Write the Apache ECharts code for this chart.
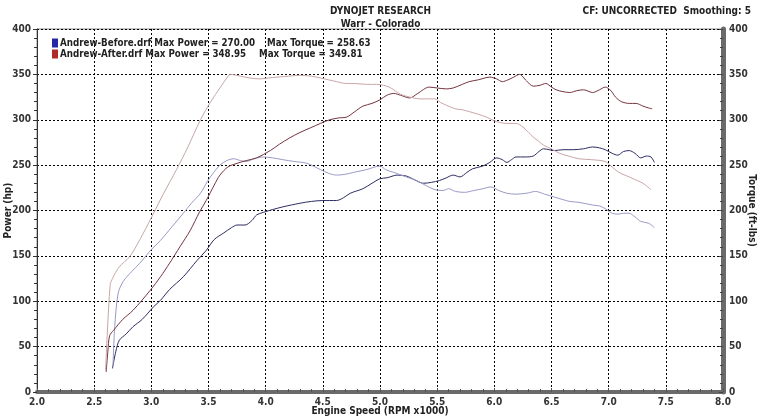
<!DOCTYPE html>
<html>
<head>
<meta charset="utf-8">
<script src="https://cdn.jsdelivr.net/npm/echarts@6/dist/echarts.min.js"></script>
<style>
html,body{margin:0;padding:0;background:#fff;}
#c{width:761px;height:416px;}
</style>
</head>
<body>
<div id="c"></div>
<script>
// ---- Data (RPM x1000, value) ----
var xTicks = [2.0,2.5,3.0,3.5,4.0,4.5,5.0,5.5,6.0,6.5,7.0,7.5,8.0];
var yTicks = [0,50,100,150,200,250,300,350,400];

var runNames = ['Andrew-Before.drf','Andrew-After.drf'];
var maxPower = ['270.00','348.95'];
var maxTorque = ['258.63','349.81'];

var beforePower = [[2.66,26],[2.69,45],[2.72,57],[2.78,64],[2.84,72],[2.92,80],[3.02,94],[3.08,101],[3.16,113],[3.28,127],[3.40,145],[3.48,156],[3.55,168],[3.63,175],[3.70,181],[3.75,184],[3.82,184],[3.88,189],[3.92,195],[3.98,198],[4.06,201],[4.15,204],[4.30,208],[4.40,210],[4.50,211],[4.62,211],[4.68,214],[4.74,219],[4.85,224],[4.93,230],[5.0,235],[5.06,236],[5.15,239],[5.23,238],[5.30,234],[5.38,230],[5.45,231],[5.52,233],[5.58,236],[5.64,239],[5.70,237],[5.76,242],[5.81,246],[5.90,249],[5.96,253],[6.02,258],[6.07,256],[6.11,253],[6.15,256],[6.19,259],[6.27,259],[6.34,260],[6.39,265],[6.43,268],[6.48,267],[6.52,266],[6.60,267],[6.69,267],[6.78,268],[6.86,270],[6.92,269],[6.97,267],[7.03,263],[7.08,261],[7.13,265],[7.18,266],[7.23,263],[7.28,258],[7.33,260],[7.37,259],[7.40,253]];

var beforeTorque = [[2.665,30],[2.68,72],[2.71,109],[2.755,122],[2.83,133],[2.90,142],[3.0,157],[3.08,167],[3.18,182],[3.28,197],[3.35,208],[3.43,219],[3.49,232],[3.54,241],[3.60,250],[3.66,255],[3.72,257],[3.78,255],[3.83,254],[3.90,257],[3.98,259],[4.06,258],[4.15,256],[4.25,254],[4.36,252],[4.48,245],[4.55,241],[4.62,239],[4.70,240],[4.77,242],[4.88,245],[5.0,249],[5.05,245],[5.12,242],[5.23,237],[5.32,233],[5.41,227],[5.48,223],[5.55,222],[5.60,224],[5.66,221],[5.74,220],[5.82,222],[5.90,224],[5.97,226],[6.04,222],[6.11,219],[6.19,218],[6.28,219],[6.36,221],[6.44,218],[6.52,215],[6.60,212],[6.66,210],[6.74,209],[6.86,206],[6.92,205],[6.97,202],[7.03,197],[7.08,196],[7.13,197],[7.18,197],[7.23,193],[7.28,188],[7.35,186],[7.40,181]];

var afterPower = [[2.605,22],[2.62,45],[2.635,62],[2.67,68],[2.75,80],[2.84,90],[2.99,112],[3.08,127],[3.16,142],[3.25,160],[3.34,178],[3.42,198],[3.48,211],[3.55,228],[3.60,239],[3.67,248],[3.75,252],[3.83,255],[3.92,258],[4.04,266],[4.12,273],[4.21,280],[4.30,286],[4.39,291],[4.48,296],[4.56,300],[4.64,302],[4.71,303],[4.78,309],[4.85,315],[4.93,318],[5.0,322],[5.06,327],[5.12,329],[5.18,327],[5.26,324],[5.33,329],[5.43,336],[5.50,335],[5.58,334],[5.64,335],[5.72,339],[5.78,342],[5.86,344],[5.96,347],[6.02,345],[6.07,342],[6.12,344],[6.17,347],[6.22,350],[6.28,343],[6.34,337],[6.40,338],[6.45,340],[6.50,336],[6.54,333],[6.60,331],[6.66,330],[6.72,332],[6.78,333],[6.86,330],[6.92,333],[6.97,336],[7.02,332],[7.06,325],[7.11,320],[7.18,318],[7.24,318],[7.30,315],[7.35,313],[7.38,312]];

var afterTorque = [[2.60,24],[2.615,65],[2.64,118],[2.66,125],[2.72,138],[2.81,149],[2.90,168],[3.0,192],[3.10,217],[3.22,245],[3.32,270],[3.43,300],[3.52,320],[3.60,335],[3.66,346],[3.69,350],[3.78,348],[3.86,346],[3.95,345],[4.02,346],[4.10,347],[4.20,348],[4.30,349],[4.40,348],[4.48,346],[4.55,344],[4.62,342],[4.70,340],[4.77,340],[4.88,339],[4.97,339],[5.03,338],[5.08,336],[5.12,333],[5.18,328],[5.26,325],[5.35,323],[5.43,323],[5.48,323],[5.53,319],[5.58,316],[5.66,312],[5.72,311],[5.78,309],[5.86,306],[5.93,303],[5.98,300],[6.02,298],[6.10,296],[6.19,296],[6.25,292],[6.30,286],[6.34,281],[6.39,276],[6.43,272],[6.50,268],[6.57,263],[6.65,260],[6.74,257],[6.85,256],[6.97,254],[7.02,249],[7.09,242],[7.18,237],[7.25,233],[7.30,230],[7.37,223]];

// ---- Chart ----
var FONT = "'DejaVu Sans Condensed','DejaVu Sans',sans-serif";
var chart = echarts.init(document.getElementById('c'), null, {renderer:'canvas'});

var legendWidths = [207, 199];
var LFS = 9.7;
var option = {
  backgroundColor: '#fff',
  animation: false,
  title: [
    {text: 'DYNOJET RESEARCH', left: 'center', top: 1,
     textStyle: {fontFamily: FONT, fontWeight: 'bold', fontSize: 10, color: '#222'}},
    {text: 'Warr - Colorado', left: 'center', top: 14,
     textStyle: {fontFamily: FONT, fontWeight: 'bold', fontSize: 10, color: '#222'}},
    {text: 'CF: UNCORRECTED  Smoothing: 5', right: 5, top: 1,
     textStyle: {fontFamily: FONT, fontWeight: 'bold', fontSize: 10, color: '#222'}}
  ],
  legend: {
    orient: 'vertical', left: 47, top: 33, itemWidth: 6, itemHeight: 9, itemGap: 1,
    icon: 'rect',
    data: [
      {name: runNames[0], itemStyle: {color: '#2626a8'}},
      {name: runNames[1], itemStyle: {color: '#b02a2a'}}
    ],
    formatter: function (name) {
      var i = runNames.indexOf(name);
      return '{a' + i + '|' + name + ' Max Power = ' + maxPower[i] + '}{b|Max Torque = ' + maxTorque[i] + '}';
    },
    textStyle: {
      fontFamily: FONT, fontWeight: 'bold', fontSize: LFS, color: '#222', padding: [0,0,0,-3],
      rich: {
        a0: {width: legendWidths[0], fontFamily: FONT, fontWeight: 'bold', fontSize: LFS, color: '#222'},
        a1: {width: legendWidths[1], fontFamily: FONT, fontWeight: 'bold', fontSize: LFS, color: '#222'},
        b: {fontFamily: FONT, fontWeight: 'bold', fontSize: LFS, color: '#222'}
      }
    }
  },
  grid: {left: 37, right: 38, top: 29, bottom: 24, outerBoundsMode: 'none', containLabel: false,
         show: true, borderColor: '#888', borderWidth: 1},
  xAxis: {
    type: 'value', min: 2, max: 8, interval: 0.5,
    name: 'Engine Speed (RPM x1000)', nameLocation: 'middle', nameGap: 14, nameMoveOverlap: false,
    nameTextStyle: {fontFamily: FONT, fontWeight: 'bold', fontSize: 10, color: '#222'},
    axisLine: {lineStyle: {color: '#6a6a6a', width: 4}},
    axisTick: {show: true, inside: true, length: 4, lineStyle: {color: '#555'}},
    minorTick: {show: true, splitNumber: 5, length: 3, lineStyle: {color: '#555'}},
    axisLabel: {margin: 5, fontFamily: FONT, fontWeight: 'bold', fontSize: 10, color: '#333',
      formatter: function (v) { return v.toFixed(1); }},
    splitLine: {show: true, lineStyle: {color: '#000', width: 1, type: [2, 2]}}
  },
  yAxis: [
    {
      type: 'value', min: 0, max: 400, interval: 50, position: 'left',
      name: 'Power (hp)', nameLocation: 'middle', nameGap: 24, nameRotate: 90, nameMoveOverlap: false,
      nameTextStyle: {fontFamily: FONT, fontWeight: 'bold', fontSize: 10, color: '#222'},
      axisLine: {show: true, lineStyle: {color: '#333', width: 1}},
      axisTick: {show: true, length: 4, lineStyle: {color: '#333'}},
      minorTick: {show: true, splitNumber: 5, length: 3, lineStyle: {color: '#333'}},
      axisLabel: {margin: 6, fontFamily: FONT, fontWeight: 'bold', fontSize: 10, color: '#333'},
      splitLine: {show: true, lineStyle: {color: '#000', width: 1, type: [2, 2]}}
    },
    {
      type: 'value', min: 0, max: 400, interval: 50, position: 'right',
      name: 'Torque (ft-lbs)', nameLocation: 'middle', nameGap: 24, nameRotate: -90, nameMoveOverlap: false,
      nameTextStyle: {fontFamily: FONT, fontWeight: 'bold', fontSize: 10, color: '#222'},
      axisLine: {show: true, lineStyle: {color: '#6a6a6a', width: 5}},
      axisTick: {show: true, inside: true, length: 4, lineStyle: {color: '#444'}},
      minorTick: {show: true, splitNumber: 5, length: 3, lineStyle: {color: '#444'}},
      axisLabel: {margin: 6, fontFamily: FONT, fontWeight: 'bold', fontSize: 10, color: '#333'},
      splitLine: {show: false}
    }
  ],
  series: [
    {name: runNames[0], type: 'line', yAxisIndex: 0, data: beforePower, showSymbol: false, smooth: 0.3,
     lineStyle: {color: '#2c2c62', width: 1}, itemStyle: {color: '#2626a8'}},
    {name: runNames[0] + ' torque', type: 'line', yAxisIndex: 1, data: beforeTorque, showSymbol: false, smooth: 0.3,
     lineStyle: {color: '#9a9ac6', width: 1}},
    {name: runNames[1], type: 'line', yAxisIndex: 0, data: afterPower, showSymbol: false, smooth: 0.3,
     lineStyle: {color: '#74343e', width: 1}, itemStyle: {color: '#b02a2a'}},
    {name: runNames[1] + ' torque', type: 'line', yAxisIndex: 1, data: afterTorque, showSymbol: false, smooth: 0.3,
     lineStyle: {color: '#caa6a6', width: 1}}
  ]
};
chart.setOption(option);
</script>
</body>
</html>
